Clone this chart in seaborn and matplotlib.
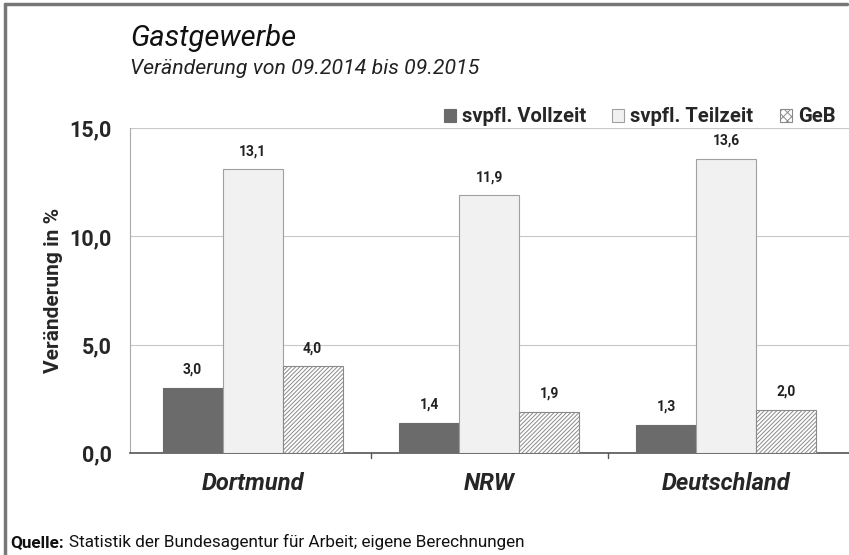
import pandas as pd
import matplotlib
matplotlib.use("Agg")
import matplotlib.pyplot as plt
import seaborn as sns
from matplotlib.ticker import FuncFormatter

# data
regions = ["Dortmund", "NRW", "Deutschland"]
series = ["svpfl. Vollzeit", "svpfl. Teilzeit", "GeB"]
vollzeit = [3.0, 1.4, 1.3]
teilzeit = [13.1, 11.9, 13.6]
geb = [4.0, 1.9, 2.0]

rows = []
for name, vals in zip(series, [vollzeit, teilzeit, geb]):
    for r, v in zip(regions, vals):
        rows.append({"Region": r, "Serie": name, "Wert": v})
df = pd.DataFrame(rows)

sns.set_style("white")
plt.rcParams["font.family"] = ["Roboto", "DejaVu Sans"]
plt.rcParams["hatch.color"] = "#8a8a8a"
plt.rcParams["hatch.linewidth"] = 0.7

fig = plt.figure(figsize=(8.49, 5.55), dpi=100)
ax = fig.add_axes([0.153, 0.184, 0.847, 0.585])

colors = ["#6b6b6b", "#f1f1f1", "#ffffff"]
sns.barplot(data=df, x="Region", y="Wert", hue="Serie", palette=colors,
            width=0.76, ax=ax, legend=False, zorder=3)

hatches = [None, None, "////////"]
edges = ["#6b6b6b", "#a0a0a0", "#8a8a8a"]
for cont, h, ec in zip(ax.containers, hatches, edges):
    for bar in cont:
        bar.set_edgecolor(ec)
        bar.set_linewidth(0.8)
        if h:
            bar.set_hatch(h)
    ax.bar_label(cont, labels=[f"{v:.1f}".replace(".", ",") for v in cont.datavalues],
                 padding=8, fontsize=10, fontweight="bold", color="#222222")

ax.set_ylim(0, 15)
ax.set_yticks([0, 5, 10, 15])
ax.yaxis.set_major_formatter(FuncFormatter(lambda v, p: f"{v:.1f}".replace(".", ",")))
ax.grid(axis="y", color="#c8c8c8", linewidth=0.8, zorder=0)
for s in ["top", "right"]:
    ax.spines[s].set_visible(False)
ax.spines["left"].set_color("#aaaaaa")
ax.spines["bottom"].set_color("#555555")
ax.spines["bottom"].set_linewidth(1.2)
ax.tick_params(axis="y", length=5, color="#aaaaaa", labelsize=15.5, pad=8)
ax.tick_params(axis="x", length=0, labelsize=17, pad=14)
for t in ax.get_yticklabels():
    t.set_fontweight("bold")
for t in ax.get_xticklabels():
    t.set_fontweight("bold")
    t.set_fontstyle("italic")
# small tick marks between the groups
for xb in [0.5, 1.5]:
    ax.plot([xb, xb], [0, -0.25], color="#555555", lw=1, clip_on=False)

ax.set_xlabel("")
ax.set_ylabel("Veränderung in %", fontsize=15, fontweight="bold", labelpad=5)

handles = [plt.Rectangle((0, 0), 1, 1, facecolor=c, edgecolor=e, hatch=h, lw=0.8)
           for c, e, h in zip(colors, edges, ["", "", "xxxx"])]
leg = ax.legend(handles, series, ncol=3, loc="lower right", bbox_to_anchor=(0.995, 0.975),
                frameon=False, handlelength=0.6, handleheight=0.6, handletextpad=0.3,
                columnspacing=1.3, borderaxespad=0.1, prop={"size": 14.5, "weight": "bold"})

fig.text(0.153, 0.918, "Gastgewerbe", fontsize=21, style="italic", color="#111111")
fig.text(0.153, 0.866, "Veränderung von 09.2014 bis 09.2015", fontsize=15.3, style="italic",
         color="#222222")
fig.text(0.012, 0.015, "Quelle:", fontsize=12.3, fontweight="bold", color="#111111")
fig.text(0.081, 0.015, "Statistik der Bundesagentur für Arbeit; eigene Berechnungen",
         fontsize=12.3, color="#111111")

# grey frame around the graphic
frame = dict(color="#777777", lw=2.5, transform=fig.transFigure)
fig.add_artist(plt.Line2D([0.006, 0.006], [0, 0.993], **frame))
fig.add_artist(plt.Line2D([0.006, 0.998], [0.993, 0.993], **frame))

fig.savefig("out.png", dpi=100)
